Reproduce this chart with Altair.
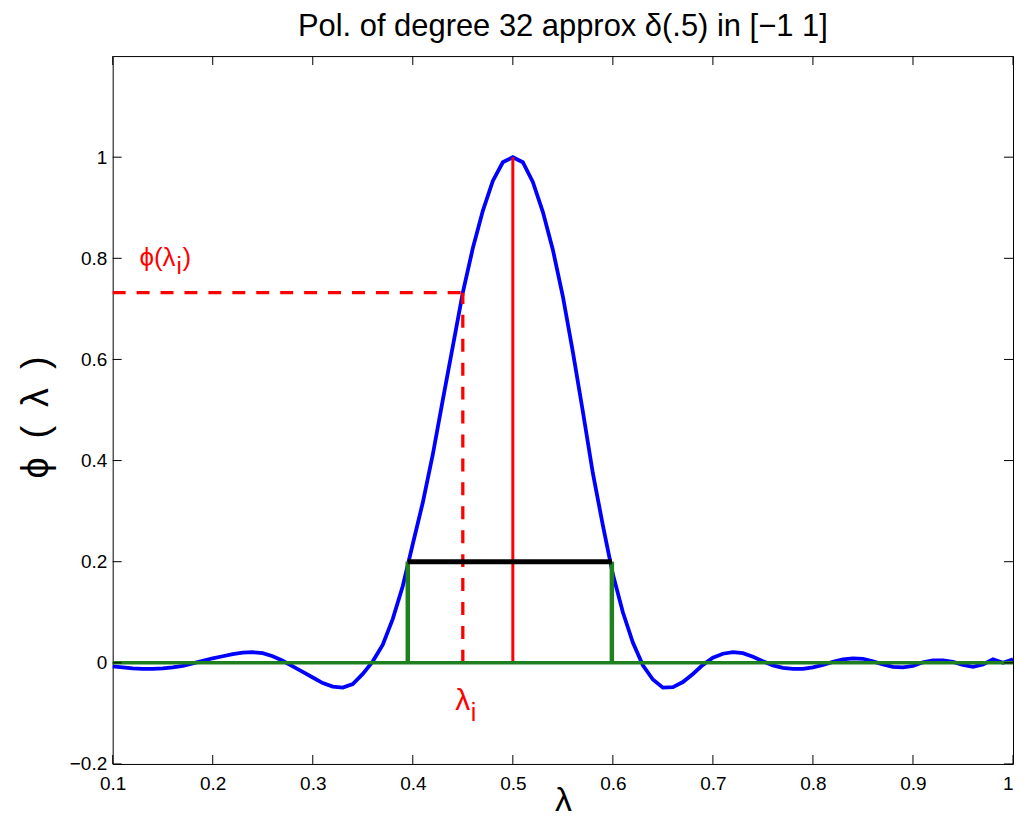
import altair as alt
import pandas as pd

# ---- data ----
lam = [0.10, 0.11, 0.12, 0.13, 0.14, 0.15, 0.16, 0.17, 0.18, 0.19,
       0.20, 0.21, 0.22, 0.23, 0.24, 0.25, 0.26, 0.27, 0.28, 0.29,
       0.30, 0.31, 0.32, 0.33, 0.34, 0.35, 0.36, 0.37, 0.38, 0.39,
       0.40, 0.41, 0.42, 0.43, 0.44, 0.45, 0.46, 0.47, 0.48, 0.49,
       0.50, 0.51, 0.52, 0.53, 0.54, 0.55, 0.56, 0.57, 0.58, 0.59,
       0.60, 0.61, 0.62, 0.63, 0.64, 0.65, 0.66, 0.67, 0.68, 0.69,
       0.70, 0.71, 0.72, 0.73, 0.74, 0.75, 0.76, 0.77, 0.78, 0.79,
       0.80, 0.81, 0.82, 0.83, 0.84, 0.85, 0.86, 0.87, 0.88, 0.89,
       0.90, 0.91, 0.92, 0.93, 0.94, 0.95, 0.96, 0.97, 0.98, 0.99,
       1.00]
phi = [-0.007, -0.009, -0.011, -0.012, -0.012, -0.011, -0.009, -0.006, -0.001, 0.004,
       0.009, 0.013, 0.017, 0.020, 0.021, 0.019, 0.013, 0.004, -0.007, -0.018,
       -0.029, -0.040, -0.047, -0.049, -0.042, -0.022, 0.003, 0.036, 0.087, 0.152,
       0.235, 0.317, 0.412, 0.520, 0.626, 0.732, 0.820, 0.894, 0.953, 0.990,
       1.000, 0.990, 0.951, 0.892, 0.817, 0.725, 0.615, 0.497, 0.375, 0.272,
       0.175, 0.100, 0.040, -0.005, -0.033, -0.049, -0.048, -0.038, -0.022, -0.004,
       0.010, 0.018, 0.021, 0.019, 0.012, 0.003, -0.005, -0.010, -0.012, -0.012,
       -0.009, -0.004, 0.002, 0.007, 0.009, 0.008, 0.003, -0.003, -0.008, -0.009,
       -0.006, 0.001, 0.005, 0.005, 0.002, -0.004, -0.008, -0.003, 0.007, 0.000,
       0.007]

x_ticks = [0.1, 0.2, 0.3, 0.4, 0.5, 0.6, 0.7, 0.8, 0.9, 1.0]
y_ticks = [-0.2, 0.0, 0.2, 0.4, 0.6, 0.8, 1.0]

lam_i = 0.45          # lambda_i
phi_i = 0.732         # phi(lambda_i)
peak_x = 0.5
peak_y = 1.0
band_lo = 0.395
band_hi = 0.599
band_y = 0.2
x_min, x_max = 0.1, 1.0
y_min, y_max = -0.2, 1.2

W, H = 903, 710
FONT = "Liberation Sans"

xs = alt.Scale(domain=[x_min, x_max], nice=False, zero=False)
ys = alt.Scale(domain=[y_min, y_max], nice=False, zero=False)

x_axis = alt.Axis(values=x_ticks, format="~g", ticks=False, domain=False, grid=False,
                  labelFont=FONT, labelFontSize=19, labelColor="black", labelPadding=11,
                  labelFlush=False, labelOverlap=False,
                  labelAlign={"condition": {"test": "datum.value >= 1", "value": "right"},
                              "value": "center"},
                  title="λ", titleFont=FONT, titleFontSize=34, titleFontWeight="normal",
                  titleColor="black", titleBaseline="middle", titleY=37)
y_axis = alt.Axis(values=y_ticks, format="~g", ticks=False, domain=False, grid=False,
                  labelFont=FONT, labelFontSize=19, labelColor="black", labelPadding=6,
                  labelFlush=False, labelOverlap=False,
                  title="ϕ\u2002(\u2002λ\u2002)", titleFont=FONT, titleFontSize=38,
                  titleFontWeight="normal",
                  titleColor="black", titleBaseline="middle", titleX=-76, titleY=362)

X = lambda f="x": alt.X(f + ":Q", scale=xs, axis=x_axis)
Y = lambda f="y": alt.Y(f + ":Q", scale=ys, axis=y_axis)

curve_df = pd.DataFrame({"x": lam, "y": phi})

curve = alt.Chart(curve_df).mark_line(color="#0000FF", strokeWidth=3.8).encode(x=X(), y=Y())

def seg(x, y, x2=None, y2=None):
    d = {"x": [x], "y": [y]}
    if x2 is not None:
        d["x2"] = [x2]
    if y2 is not None:
        d["y2"] = [y2]
    return pd.DataFrame(d)

def rule(df, color, width, dash=None):
    kw = dict(color=color, strokeWidth=width, strokeCap="butt")
    if dash is not None:
        kw["strokeDash"] = dash
    enc = dict(x=X(), y=Y())
    if "x2" in df.columns:
        enc["x2"] = "x2:Q"
    if "y2" in df.columns:
        enc["y2"] = "y2:Q"
    return alt.Chart(df).mark_rule(**kw).encode(**enc)

red_peak = rule(seg(peak_x, 0.0, y2=peak_y), "#FF0000", 3)
dash_h = rule(seg(x_min, phi_i, x2=lam_i), "#FF0000", 3.3, [13, 11])
dash_v = rule(seg(lam_i, 0.0, y2=phi_i), "#FF0000", 3.3, [13, 11])
green_h = rule(seg(x_min, 0.0, x2=x_max), "#1E801E", 3.5)
green_v = rule(pd.DataFrame({"x": [band_lo, band_hi], "y": [0.0, 0.0], "y2": [band_y, band_y]}),
               "#1E801E", 4.5)
black_h = rule(seg(band_lo, band_y, x2=band_hi), "#000000", 5)

# inward tick marks on all four sides
xt_df = pd.DataFrame({"x": x_ticks})
yt_df = pd.DataFrame({"y": y_ticks})
tick_b = alt.Chart(xt_df).mark_rule(color="black", strokeWidth=1).encode(
    x=X(), y=alt.value(H), y2=alt.value(H - 9))
tick_t = alt.Chart(xt_df).mark_rule(color="black", strokeWidth=1).encode(
    x=X(), y=alt.value(0), y2=alt.value(9))
tick_l = alt.Chart(yt_df).mark_rule(color="black", strokeWidth=1).encode(
    y=Y(), x=alt.value(0), x2=alt.value(9))
tick_r = alt.Chart(yt_df).mark_rule(color="black", strokeWidth=1).encode(
    y=Y(), x=alt.value(W), x2=alt.value(W - 9))

# annotations
def label(text, x, y, size, dx=0, dy=0, align="left", color="#FF0000"):
    return alt.Chart(pd.DataFrame({"x": [x], "y": [y], "t": [text]})).mark_text(
        font=FONT, fontSize=size, color=color, align=align, baseline="middle", dx=dx, dy=dy
    ).encode(x=X(), y=Y(), text="t:N")

anchor_x = 0.1628
ann_phi = label("ϕ(λ", anchor_x, 0.80, 26, align="right")
ann_phi_i = label("i", anchor_x, 0.80, 24, dx=1, dy=9)
ann_phi_close = label(")", anchor_x, 0.80, 26, dx=7)
ann_lam = label("λ", lam_i, -0.075, 30, align="center")
ann_lam_i = label("i", lam_i, -0.075, 25, dx=8, dy=12)

title = alt.Chart(pd.DataFrame({"t": ["Pol. of degree 32 approx δ(.5) in [−1 1]"]})).mark_text(
    font=FONT, fontSize=31, color="black", align="center", baseline="middle"
).encode(x=alt.value(W / 2), y=alt.value(-29), text="t:N")

chart = alt.layer(
    curve, red_peak, dash_h, dash_v, green_h, green_v, black_h,
    tick_b, tick_t, tick_l, tick_r,
    ann_phi, ann_phi_i, ann_phi_close, ann_lam, ann_lam_i, title,
).properties(
    width=W, height=H,
    background="white",
    autosize=alt.AutoSizeParams(type="none"),
    padding={"left": 105, "top": 47, "right": 2, "bottom": 55},
).configure_view(stroke="black", strokeWidth=1)

chart.save("out.html", embed_options={"renderer": "svg", "actions": False})
